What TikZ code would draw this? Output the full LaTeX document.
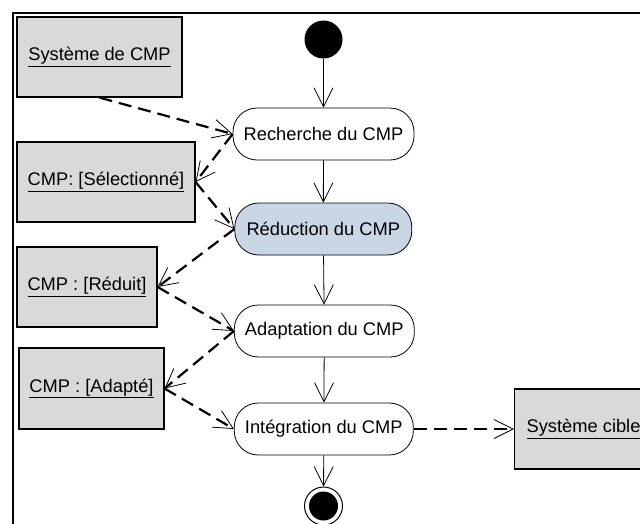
\documentclass[tikz,border=0pt]{standalone}
\usepackage{fontspec}
\setmainfont{Liberation Sans}
\usetikzlibrary{arrows.meta}
\begin{document}
\begin{tikzpicture}[x=1pt,y=-1pt,
  font=\fontsize{18.3}{22}\selectfont,
  obj/.style={draw, line width=1.2pt, fill=gray!30, inner sep=0pt},
  act/.style={draw, line width=0.8pt, fill=white, rounded corners=24pt, minimum height=52pt, inner sep=0pt},
  tipv/.tip={Straight Barb[length=19pt,width=19pt,line width=0.8pt]},
  cf/.style={draw, line width=0.8pt, -tipv},
  of/.style={draw, line width=2.2pt, dash pattern=on 13pt off 7pt, -tipv}]
\useasboundingbox (0,0) rectangle (640,523);
\clip (0,0) rectangle (640,523);
\draw[line width=1.6pt] (13,560) -- (13,13) -- (700,13);
% object nodes
\node[obj, minimum width=165pt, minimum height=80pt] (sys) at (99.5,57) {\underline{Système de CMP}};
\node[obj, minimum width=178pt, minimum height=80pt] (sel) at (106,182) {\underline{CMP: [Sélectionné]}};
\node[obj, minimum width=140pt, minimum height=80pt] (red) at (87,287) {\underline{CMP : [Réduit]}};
\node[obj, minimum width=145pt, minimum height=81pt] (adp) at (91.5,388.5) {\underline{CMP : [Adapté]}};
\node[obj, anchor=west, minimum height=80pt, inner xsep=12pt] (cible) at (514,429) {\underline{Système cible}};
% activities
\node[act, minimum width=181pt] (rech) at (323.5,134) {Recherche du CMP};
\node[act, minimum width=177pt, fill={rgb,255:red,201;green,214;blue,230}] (redc) at (323.3,229) {Réduction du CMP};
\node[act, minimum width=180pt] (adapt) at (324.3,331) {Adaptation du CMP};
\node[act, minimum width=179pt] (integ) at (323.8,429) {Intégration du CMP};
% start / end
\node[circle, fill=black, minimum size=38pt, inner sep=0pt] (start) at (323.5,39.5) {};
\node[circle, draw, line width=1pt, fill=white, minimum size=38pt, inner sep=0pt] (fin) at (323.5,506) {};
\node[circle, fill=black, minimum size=29pt, inner sep=0pt] (finc) at (fin.center) {};
% control flows
\draw[cf] (start) -- (rech);
\draw[cf] (rech) -- (redc);
\draw[cf] (redc) -- (adapt);
\draw[cf] (adapt) -- (integ);
\draw[cf] (integ) -- (fin);
% object flows
\draw[of] (sys.south) -- (rech.west);
\draw[of] (rech.west) -- (sel.east);
\draw[of] (sel.east) -- (redc.west);
\draw[of] (redc.west) -- (red.east);
\draw[of] (red.east) -- (adapt.west);
\draw[of] (adapt.west) -- (adp.east);
\draw[of] (adp.east) -- (integ.west);
\draw[of] (integ.east) -- (cible.west);
\end{tikzpicture}
\end{document}
